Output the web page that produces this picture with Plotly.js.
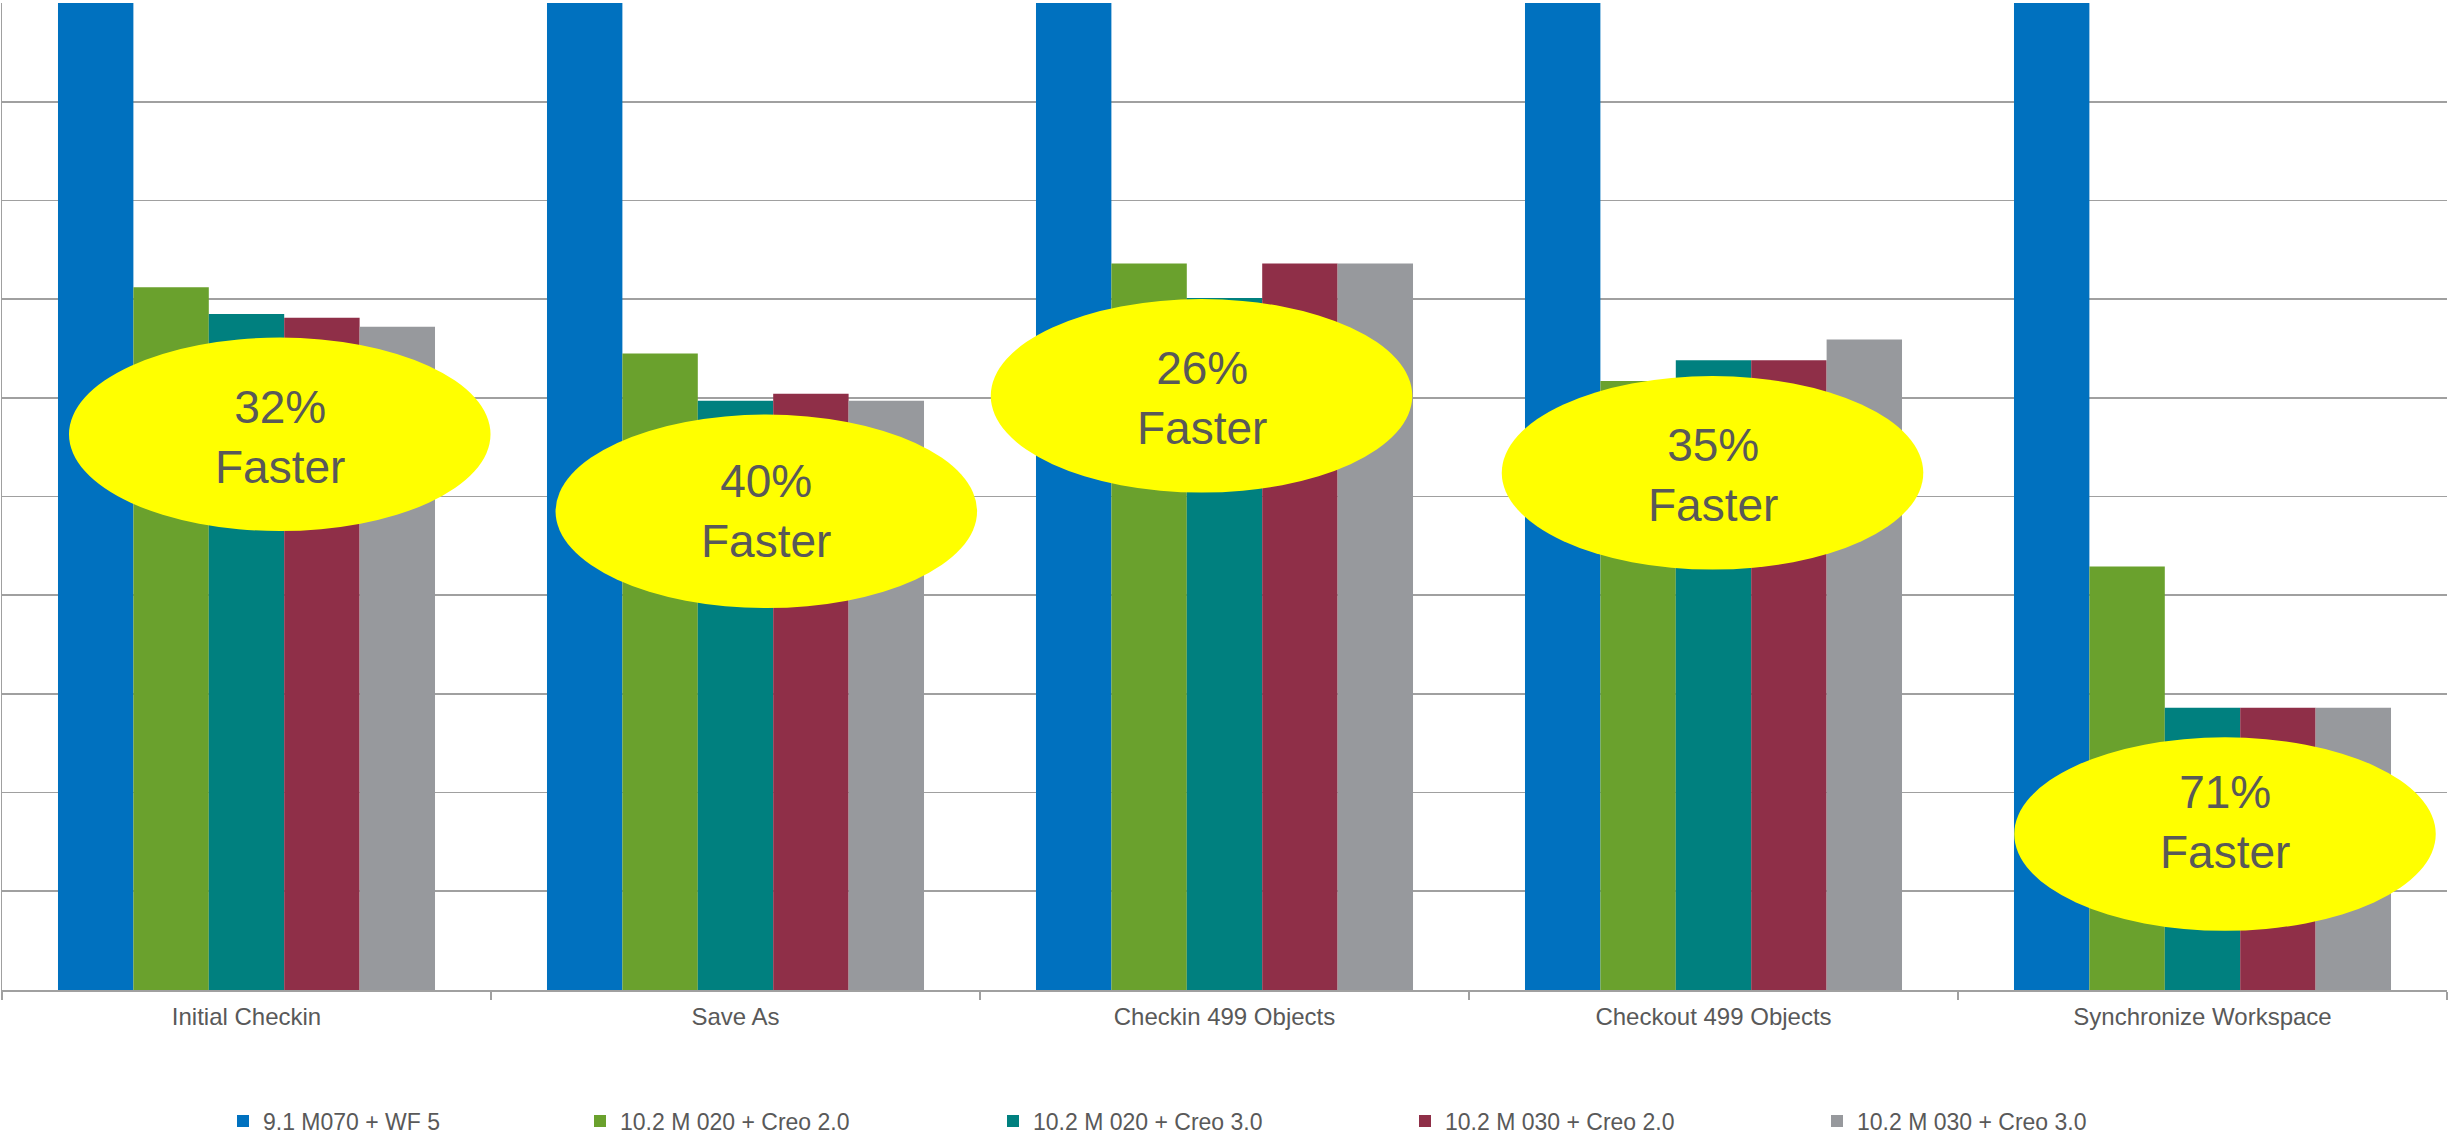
<!DOCTYPE html>
<html>
<head>
<meta charset="utf-8">
<script src="https://cdn.plot.ly/plotly-3.0.1.min.js"></script>
<style>
  html, body { margin: 0; padding: 0; background: #ffffff; }
  #chart { width: 2449px; height: 1135px; }
</style>
</head>
<body>
<div id="chart"></div>
<script>
// ---- data ----
const categories = ['Initial Checkin', 'Save As', 'Checkin 499 Objects', 'Checkout 499 Objects', 'Synchronize Workspace'];
const seriesNames = ['9.1 M070 + WF 5', '10.2 M 020 + Creo 2.0', '10.2 M 020 + Creo 3.0', '10.2 M 030 + Creo 2.0', '10.2 M 030 + Creo 3.0'];
const v91_m070_wf5     = [100, 100, 100, 100, 100];
const v102_m020_creo2  = [71.2, 64.5, 73.6, 61.7, 42.9];
const v102_m020_creo3  = [68.5, 59.7, 70.1, 63.8, 28.6];
const v102_m030_creo2  = [68.1, 60.4, 73.6, 63.8, 28.6];
const v102_m030_creo3  = [67.2, 59.7, 73.6, 65.9, 28.6];
const calloutText = ['32%', '40%', '26%', '35%', '71%'];

// ---- styles ----
const colors = ['#0071BF', '#6AA12D', '#00807F', '#8F2F48', '#97999D'];
const textColor = '#595959';
const gridColor = '#A0A0A0';
const fontFam = '"Liberation Sans", Arial, sans-serif';

// callout ellipse placement (category units / value units)
const calloutCx = [0.068, 1.063, 1.953, 2.998, 4.046];
const calloutCy = [56.3, 48.5, 60.2, 52.4, 15.8];
const calloutTextCy = [56.0, 48.5, 60.0, 52.2, 17.0];
const calloutRx = 0.431;
const calloutRy = 9.8;

// legend text left positions (px in container)
const legendTextX = [268, 625, 1038, 1450, 1862];

const allValues = [v91_m070_wf5, v102_m020_creo2, v102_m020_creo3, v102_m030_creo2, v102_m030_creo3];
const legendIds = ['legend', 'legend2', 'legend3', 'legend4', 'legend5'];

const traces = allValues.map((vals, i) => ({
  type: 'bar',
  name: seriesNames[i],
  x: categories,
  y: vals,
  marker: { color: colors[i], line: { width: 0 } },
  legend: legendIds[i],
  hoverinfo: 'x+y+name'
}));

const W = 2449, H = 1135;
const layout = {
  width: W, height: H,
  margin: { l: 2, r: 2, t: 3, b: 145, autoexpand: false },
  paper_bgcolor: '#ffffff',
  plot_bgcolor: '#ffffff',
  barmode: 'group',
  bargap: 0.229,
  bargroupgap: 0,
  font: { family: fontFam, color: textColor },
  xaxis: {
    type: 'category',
    showline: true, linecolor: gridColor, linewidth: 2,
    ticks: 'outside', tickson: 'boundaries', ticklen: 8, tickwidth: 1.5, tickcolor: gridColor,
    tickfont: { size: 24, color: textColor, family: fontFam },
    ticklabelstandoff: 4,
    showgrid: false, zeroline: false,
    fixedrange: true
  },
  yaxis: {
    range: [0, 100], dtick: 10, tick0: 0,
    showticklabels: false, ticks: '',
    showgrid: true, gridcolor: gridColor, gridwidth: 1.7,
    showline: true, linecolor: gridColor, linewidth: 1.5,
    zeroline: false, fixedrange: true
  },
  shapes: calloutCx.map((cx, i) => ({
    type: 'circle', xref: 'x', yref: 'y',
    x0: cx - calloutRx, x1: cx + calloutRx,
    y0: calloutCy[i] - calloutRy, y1: calloutCy[i] + calloutRy,
    fillcolor: '#FFFF00', line: { width: 0 }, layer: 'above'
  })),
  annotations: calloutCx.map((cx, i) => ({
    xref: 'x', yref: 'y', x: cx, y: calloutTextCy[i],
    text: calloutText[i] + '<br>Faster',
    showarrow: false, xanchor: 'center', yanchor: 'middle',
    font: { size: 46, color: textColor, family: fontFam }
  })),
  showlegend: true
};

legendIds.forEach((id, i) => {
  layout[id] = {
    orientation: 'h',
    xref: 'container', yref: 'container',
    x: (legendTextX[i] - 45) / W, xanchor: 'left',
    y: 14 / H, yanchor: 'middle',
    bgcolor: 'rgba(0,0,0,0)', borderwidth: 0,
    font: { size: 23, color: textColor, family: fontFam },
    itemclick: false, itemdoubleclick: false
  };
});

Plotly.newPlot('chart', traces, layout, { displayModeBar: false, staticPlot: true });
</script>
</body>
</html>
